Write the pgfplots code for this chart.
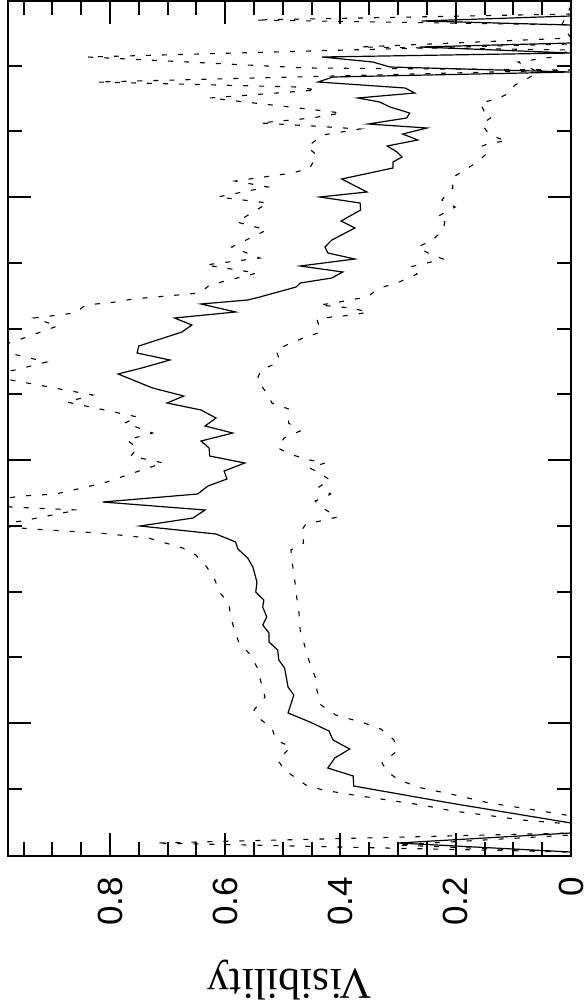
\documentclass[border=0pt]{standalone}
\usepackage{fontspec}
\setmainfont{Liberation Serif}
\newfontfamily\hv{Liberation Sans}
\usepackage{pgfplots}
\pgfplotsset{compat=1.18}

\begin{document}
\begin{tikzpicture}
\begin{axis}[
  scale only axis,
  width=563pt, height=855pt,
  x dir=reverse, y dir=reverse,
  xmin=0, xmax=0.977,
  ymin=1, ymax=856,
  xtick={0,0.2,0.4,0.6,0.8},
  xticklabels={0,0.2,0.4,0.6,0.8},
  minor xtick={0.05,0.1,0.15,0.25,0.3,0.35,0.45,0.5,0.55,0.65,0.7,0.75,0.85,0.9,0.95},
  ytick={197,460,723},
  minor ytick={66,131,263,329,394,526,592,657,789},
  yticklabels={},
  tick pos=both, tick align=inside,
  major tick length=23pt, minor tick length=14pt,
  every tick/.style={black, line width=2pt},
  axis line style={line width=2.5pt},
  xticklabel style={rotate=90, anchor=east, inner sep=0pt, font=\hv\fontsize{35}{35}\selectfont},
  xticklabel shift=21pt,
  xlabel={Visibility},
  xlabel style={at={(axis description cs:0.5,0)}, anchor=center, yshift=-124pt, rotate=180, inner sep=0pt, font=\fontsize{44}{44}\selectfont},
  /pgf/number format/assume math mode=true,
]
% lower dotted
\addplot[black, line width=1.1pt, dash pattern=on 5pt off 11pt] coordinates {
(0,6) (0.016,25) (0,38) (0.366,47) (0,50) (0.031,57) (0.092,62) (0.057,72) (0.068,76)
(0.080,80) (0.097,85) (0.111,94) (0.128,99) (0.158,103) (0.149,113) (0.137,117)
(0.155,124) (0.144,133) (0.132,137) (0.111,141) (0.141,143) (0.158,147) (0.149,155)
(0.163,162) (0.184,170) (0.207,178) (0.205,188) (0.214,193) (0.224,200) (0.201,207)
(0.233,217) (0.219,222) (0.222,230) (0.240,240) (0.266,247) (0.245,254) (0.222,259)
(0.250,263) (0.280,267) (0.267,274) (0.302,283) (0.332,288) (0.354,297) (0.384,300)
(0.411,303) (0.4375,305) (0.382,308) (0.352,312) (0.378,315) (0.415,317) (0.441,319)
(0.434,332) (0.460,337) (0.486,343) (0.512,350) (0.507,358) (0.510,363) (0.538,370)
(0.545,380) (0.528,393) (0.519,403) (0.490,409) (0.490,423) (0.470,431) (0.498,438)
(0.509,448) (0.483,455) (0.453,460) (0.427,463) (0.453,468) (0.434,474) (0.418,480)
(0.4375,487) (0.417,494) (0.444,501) (0.431,508) (0.405,517) (0.427,520) (0.460,524)
(0.467,530) (0.464,543) (0.486,550) (0.483,566) (0.479,582) (0.476,597) (0.472,613)
(0.470,630) (0.455,660) (0.444,677) (0.441,690) (0.434,705) (0.408,715) (0.359,723)
(0.330,729) (0.307,740) (0.304,752) (0.328,763) (0.318,772) (0.299,780) (0.259,788)
(0.201,795) (0.142,803) (0.085,808) (0.019,814) (0,816) (0,835) (0.302,845) (0,852)
};
% upper dotted
\addplot[black, line width=1.1pt, dash pattern=on 5pt off 11pt] coordinates {
(0,14) (0.549,20) (0,25) (0,44) (0.839,57) (0.458,68) (0,70) (0.823,82) (0.476,87)
(0.441,90) (0.627,98) (0.488,107) (0.398,113) (0.450,118) (0.540,123) (0.448,126)
(0.366,129) (0.431,135) (0.458,147) (0.441,155) (0.453,168) (0.483,173) (0.583,181)
(0.526,187) (0.613,197) (0.526,203) (0.580,222) (0.528,230) (0.589,247) (0.540,258)
(0.635,265) (0.545,273) (0.627,285) (0.644,293) (0.760,299) (0.790,302) (0.842,305)
(0.861,313) (0.932,318) (0.891,326) (0.969,342) (1.009,348) (0.976,353) (0.910,362)
(0.965,370) (1.009,375) (0.972,380) (0.830,395) (0.875,402) (0.752,417) (0.774,423)
(0.726,433) (0.771,440) (0.752,448) (0.764,456) (0.707,463) (0.729,467) (0.811,483)
(0.894,494) (0.953,496) (1.026,502) (0.972,507) (0.856,510) (0.953,521) (1.009,525)
(0.936,529) (0.819,533) (0.733,538) (0.674,548) (0.651,555) (0.632,567) (0.618,580)
(0.609,593) (0.594,603) (0.590,618) (0.583,632) (0.576,643) (0.559,653) (0.545,667)
(0.538,682) (0.531,697) (0.550,710) (0.542,718) (0.519,728) (0.512,740) (0.486,747)
(0.509,760) (0.497,770) (0.460,785) (0.431,790) (0.377,795) (0.318,800) (0.259,805)
(0.205,811) (0.149,815) (0.085,820) (0,824) (0,833) (0.722,843) (0,852)
};
% measured visibility
\addplot[black, line width=1.2pt] coordinates {
(0,8) (0,16) (0.259,21) (0,25) (0,43) (0.262,47) (0,53) (0.432,57) (0.344,62)
(0.314,67) (0,72) (0.413,77) (0.439,82) (0.288,88) (0.271,93) (0.370,98) (0.332,102)
(0.314,107) (0.280,113) (0.285,118) (0.352,124) (0.250,128) (0.292,134) (0.266,140)
(0.319,146) (0.302,152) (0.293,157) (0.309,162) (0.309,168) (0.398,179) (0.354,192)
(0.436,197) (0.366,203) (0.365,210) (0.399,221) (0.375,228) (0.415,240) (0.427,247)
(0.422,253) (0.375,259) (0.470,266) (0.396,272) (0.415,278) (0.470,283) (0.477,287)
(0.540,297) (0.561,300) (0.642,304) (0.582,312) (0.688,318) (0.658,325) (0.675,332)
(0.750,346) (0.753,353) (0.696,360) (0.745,368) (0.786,374) (0.726,388) (0.672,396)
(0.701,403) (0.642,410) (0.616,418) (0.635,426) (0.587,433) (0.642,441) (0.628,448)
(0.627,456) (0.566,463) (0.602,471) (0.597,479) (0.630,486) (0.648,494) (0.8125,502)
(0.635,510) (0.656,518) (0.748,526) (0.616,534) (0.582,542) (0.578,549) (0.561,558)
(0.552,567) (0.545,582) (0.547,592) (0.533,600) (0.535,607) (0.528,617) (0.535,625)
(0.524,633) (0.524,642) (0.509,650) (0.507,660) (0.497,668) (0.491,687) (0.481,695)
(0.491,713) (0.453,722) (0.420,731) (0.413,740) (0.384,749) (0.410,758) (0.422,768)
(0.378,776) (0.377,786) (0.210,803) (0,823) (0,833) (0.300,843) (0,852)
};
\coordinate (tl) at (axis cs:0.977,1);
\coordinate (br) at (axis cs:0,856);
\end{axis}
\pgfresetboundingbox
\path ([xshift=-8pt,yshift=1pt]tl) rectangle ([xshift=14pt,yshift=-147pt]br);
\end{tikzpicture}
\end{document}
